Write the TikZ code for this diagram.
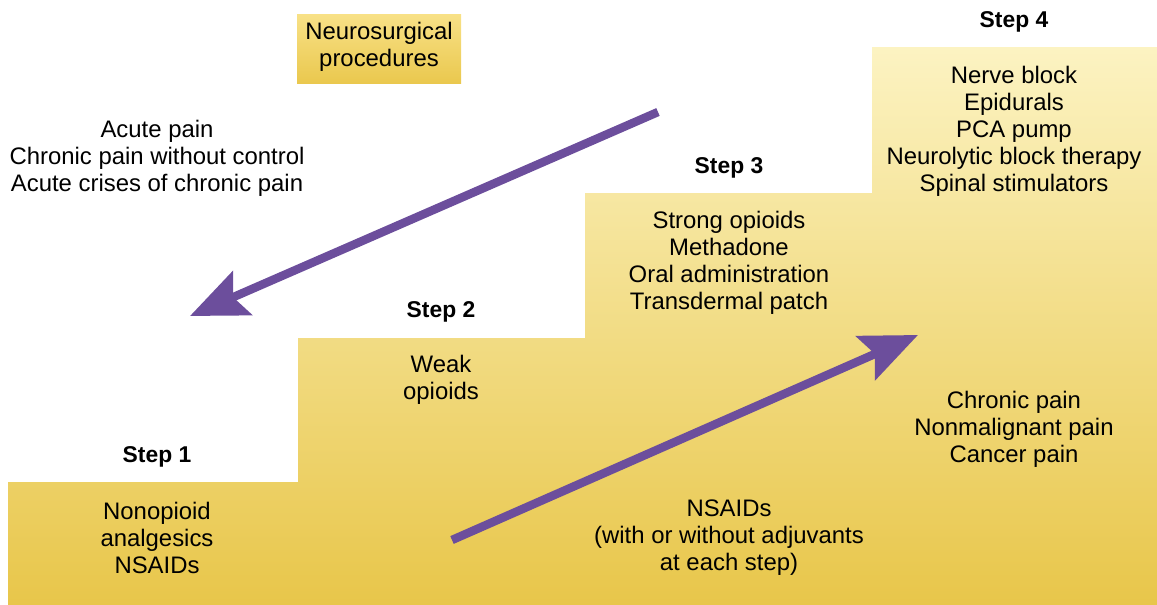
\documentclass[tikz,border=0pt]{standalone}
\usepackage{fontspec}
\setmainfont{Liberation Sans}
\usetikzlibrary{arrows.meta}
\definecolor{stairtop}{HTML}{FCF3C2}
\definecolor{stairbottom}{HTML}{E8C64A}
\definecolor{boxtop}{HTML}{F8E187}
\definecolor{boxbottom}{HTML}{EAC84E}
\definecolor{ladderpurple}{HTML}{6C4E9C}

\begin{document}
\begin{tikzpicture}[x=0.02cm, y=-0.02cm]
    % Setup the styles for the labels and arrows
        \tikzset{list style/.style={align=center,
                                    font=\fontsize{13.6}{15.4}\selectfont,
                                    inner sep=0pt},
                 step style/.style={font=\fontsize{13}{15.4}\selectfont\bfseries,
                                    inner sep=0pt},
                 arrow style/.style={draw=ladderpurple,
                                     line width=0.17cm,
                                     -{Stealth[length=1.14cm, width=0.95cm, inset=0.2cm]}}}

        \useasboundingbox (0, 0) rectangle (1157, 605);

        % The staircase
        \shade[top color=stairtop, bottom color=stairbottom]
            (8, 605) -- (8, 482) -- (298, 482) -- (298, 338) -- (585, 338)
            -- (585, 193) -- (872, 193) -- (872, 47) -- (1157, 47)
            -- (1157, 605) -- cycle;
        \shade[top color=boxtop, bottom color=boxbottom]
            (297, 14) rectangle (461, 83);

        % Draw the labels
        \node[list style] at (379, 47)   (surgery)  {Neurosurgical\\procedures};
        \node[list style] at (157, 158)  (acute)    {Acute pain\\Chronic pain without control\\Acute crises of chronic pain};
        \node[step style] at (1014, 22)  (step4)    {Step 4};
        \node[list style] at (1014, 131) (invasive) {Nerve block\\Epidurals\\PCA pump\\Neurolytic block therapy\\Spinal stimulators};
        \node[step style] at (729, 168)  (step3)    {Step 3};
        \node[list style] at (729, 263)  (strong)   {Strong opioids\\Methadone\\Oral administration\\Transdermal patch};
        \node[step style] at (441, 312)  (step2)    {Step 2};
        \node[list style] at (441, 380)  (weak)     {Weak\\opioids};
        \node[step style] at (157, 457)  (step1)    {Step 1};
        \node[list style] at (157, 538)  (nonop)    {Nonopioid\\analgesics\\NSAIDs};
        \node[list style] at (729, 538)  (nsaids)   {NSAIDs\\(with or without adjuvants\\at each step)};
        \node[list style] at (1014, 429) (chronic)  {Chronic pain\\Nonmalignant pain\\Cancer pain};

        % Arrow ends
        \coordinate (down start) at (658, 112);
        \coordinate (down end)   at (190, 316);
        \coordinate (up start)   at (452, 540);
        \coordinate (up end)     at (918, 335);

        % Connect them
        \draw[arrow style] (down start) -- (down end);
        \draw[arrow style] (up start) -- (up end);
\end{tikzpicture}
\end{document}
